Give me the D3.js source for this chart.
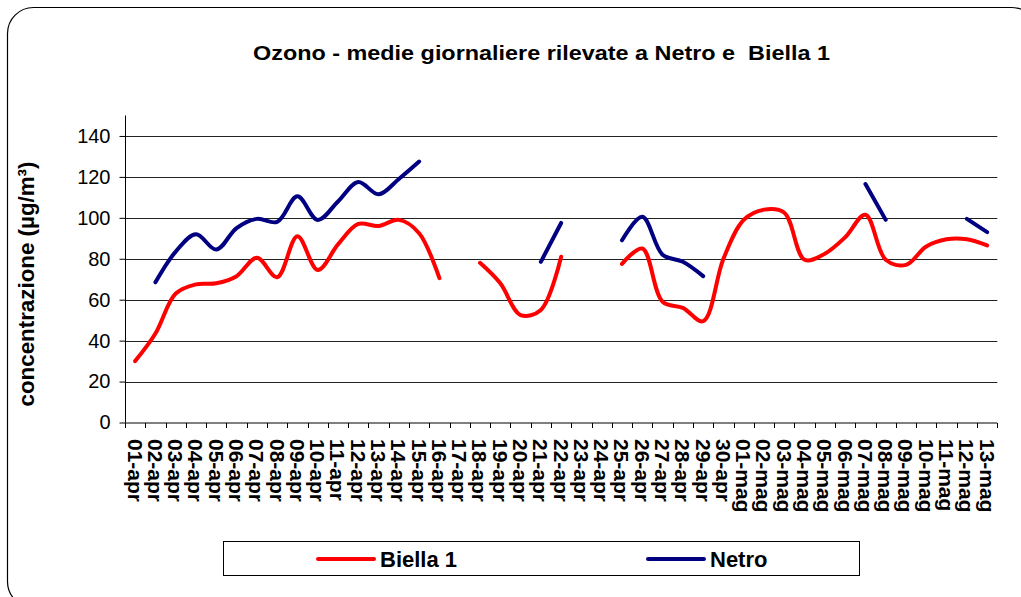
<!DOCTYPE html>
<html>
<head>
<meta charset="utf-8">
<script src="https://cdn.jsdelivr.net/npm/d3@7"></script>
<style>
  body { margin: 0; background: #fff; }
  text { font-family: "Liberation Sans", Arial, sans-serif; }
</style>
</head>
<body>
<div id="chartdiv"></div>
<script>
// Categories (days)
var days = ["01-apr","02-apr","03-apr","04-apr","05-apr","06-apr","07-apr","08-apr","09-apr","10-apr",
            "11-apr","12-apr","13-apr","14-apr","15-apr","16-apr","17-apr","18-apr","19-apr","20-apr",
            "21-apr","22-apr","23-apr","24-apr","25-apr","26-apr","27-apr","28-apr","29-apr","30-apr",
            "01-mag","02-mag","03-mag","04-mag","05-mag","06-mag","07-mag","08-mag","09-mag","10-mag",
            "11-mag","12-mag","13-mag"];

// Daily means (µg/m³), null = missing
var biella = [30, 43.5, 63, 67.5, 68, 71.5, 80.5, 71, 91, 74.5,
              87, 97, 96, 99, 92.5, 70.5, null, 78, 68, 52.5,
              55, 81, null, null, 77.5, 85, 59, 56, 49.5, 80,
              99, 104, 102.5, 79.5, 82.5, 90.5, 101.5, 79.5, 77, 86,
              89.5, 89.5, 86.5];

var netro = [null, 68.5, 83.5, 92, 84.5, 95, 99.5, 98, 110.5, 99,
             108, 117.5, 111.5, 119, 127.5, null, null, null, null, null,
             78.5, 97.5, null, null, 89, 100.5, 82, 78.5, 71.5, null,
             null, null, null, null, null, null, 116.5, 99, null, null,
             null, 99.5, 93];

var yTicks = [0, 20, 40, 60, 80, 100, 120, 140];

var seriesNames = ["Biella 1", "Netro"];
var seriesColors = ["#ff0000", "#000080"];

// SVG area
var svgWidth = 1021;
var svgHeight = 597;

var svg = d3.select("#chartdiv")
    .append("svg")
    .attr("width", svgWidth)
    .attr("height", svgHeight);

// outer rounded frame (runs off the right and bottom edges)
svg.append("rect")
    .attr("x", 7.5)
    .attr("y", 7.5)
    .attr("width", 1030)
    .attr("height", 600)
    .attr("rx", 26)
    .attr("fill", "#fff")
    .attr("stroke", "#000")
    .attr("stroke-width", 1.2);

// plot area
var plot = { left: 125, right: 997.3, top: 115.5, bottom: 422.5 };

var xScale = d3.scaleBand()
    .domain(days)
    .range([plot.left, plot.right])
    .padding(0);

var yScale = d3.scaleLinear()
    .domain([0, 150])
    .range([plot.bottom, plot.top]);

var xc = function (i) { return xScale(days[i]) + xScale.bandwidth() / 2; };

// gridlines
svg.append("g")
    .selectAll("line")
    .data(yTicks.filter(function (t) { return t > 0; }))
    .enter()
    .append("line")
    .attr("x1", plot.left)
    .attr("x2", plot.right)
    .attr("y1", function (d) { return Math.round(yScale(d)) + 0.5; })
    .attr("y2", function (d) { return Math.round(yScale(d)) + 0.5; })
    .attr("stroke", "#222")
    .attr("stroke-width", 1);

// y axis
var leftAxis = d3.axisLeft(yScale)
    .tickValues(yTicks)
    .tickSize(6)
    .tickPadding(9);

var yAxisG = svg.append("g")
    .attr("transform", "translate(" + (plot.left + 0.5) + ",0)")
    .call(leftAxis);

yAxisG.select(".domain").attr("d", "M0," + plot.top + "V" + plot.bottom).attr("stroke", "#000");
yAxisG.selectAll(".tick line").attr("stroke", "#000");
yAxisG.selectAll(".tick text")
    .attr("font-size", "20px")
    .attr("font-family", "'Liberation Sans', Arial, sans-serif")
    .attr("fill", "#000");

// x axis: ticks on category boundaries
var xAxisG = svg.append("g")
    .attr("transform", "translate(0," + (plot.bottom + 0.5) + ")");

xAxisG.append("line")
    .attr("x1", plot.left)
    .attr("x2", plot.right)
    .attr("stroke", "#000");

var bounds = days.map(function (d) { return xScale(d); }).concat([plot.right]);

xAxisG.selectAll("line.tick")
    .data(bounds)
    .enter()
    .append("line")
    .attr("class", "tick")
    .attr("x1", function (d) { return Math.round(d) + 0.5; })
    .attr("x2", function (d) { return Math.round(d) + 0.5; })
    .attr("y1", 0)
    .attr("y2", 5)
    .attr("stroke", "#000");

xAxisG.selectAll("text")
    .data(days)
    .enter()
    .append("text")
    .attr("transform", function (d, i) { return "translate(" + xc(i) + ",16) rotate(90)"; })
    .attr("dy", "0.36em")
    .attr("font-size", "21px")
    .attr("font-weight", "bold")
    .attr("fill", "#000")
    .text(function (d) { return d; });

// lines
var lineGen = d3.line()
    .defined(function (d) { return d != null; })
    .x(function (d, i) { return xc(i); })
    .y(function (d) { return yScale(d); })
    .curve(d3.curveCatmullRom.alpha(0.5));

[biella, netro].forEach(function (series, k) {
    svg.append("path")
        .datum(series)
        .attr("d", lineGen)
        .attr("fill", "none")
        .attr("stroke", seriesColors[k])
        .attr("stroke-width", 4)
        .attr("stroke-linejoin", "round")
        .attr("stroke-linecap", "round");
});

// title
svg.append("text")
    .attr("x", 541.5)
    .attr("y", 60)
    .attr("text-anchor", "middle")
    .attr("font-size", "21px")
    .attr("font-weight", "bold")
    .attr("textLength", 577)
    .attr("lengthAdjust", "spacingAndGlyphs")
    .style("white-space", "pre")
    .text("Ozono - medie giornaliere rilevate a Netro e  Biella 1");

// y axis label
svg.append("text")
    .attr("transform", "translate(33.5,284) rotate(-90)")
    .attr("text-anchor", "middle")
    .attr("font-size", "22px")
    .attr("font-weight", "bold")
    .attr("textLength", 245)
    .attr("lengthAdjust", "spacingAndGlyphs")
    .text("concentrazione (µg/m³)");

// legend
var legend = svg.append("g");

legend.append("rect")
    .attr("x", 223.5)
    .attr("y", 541.5)
    .attr("width", 636)
    .attr("height", 34)
    .attr("fill", "#fff")
    .attr("stroke", "#000")
    .attr("stroke-width", 1);

var legendX = [318, 648];
seriesNames.forEach(function (name, k) {
    legend.append("line")
        .attr("x1", legendX[k])
        .attr("x2", legendX[k] + 56)
        .attr("y1", 559)
        .attr("y2", 559)
        .attr("stroke", seriesColors[k])
        .attr("stroke-width", 4)
        .attr("stroke-linecap", "round");
    legend.append("text")
        .attr("x", legendX[k] + 62)
        .attr("y", 567)
        .attr("font-size", "22px")
        .attr("font-weight", "bold")
        .text(name);
});
</script>
</body>
</html>
